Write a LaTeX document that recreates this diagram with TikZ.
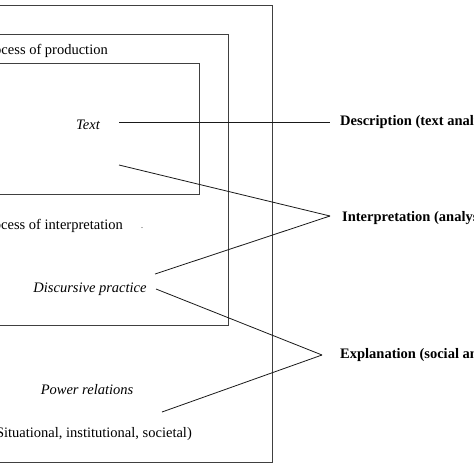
\documentclass[tikz,border=0pt]{standalone}
\usepackage{fontspec}
\setmainfont{Liberation Serif}
\usetikzlibrary{positioning}

\begin{document}
\begin{tikzpicture}[
        x=1pt, y=-1pt,
        box/.style={draw=black!75, line width=0.9pt},
        link/.style={draw=black!90, line width=0.8pt},
        lbl/.style={inner sep=0pt, font=\fontsize{14.5}{16}\selectfont},
        slbl/.style={lbl, font=\fontsize{14.5}{16}\selectfont\itshape},
        stage/.style={inner sep=0pt, anchor=west, font=\fontsize{14.5}{16}\selectfont\bfseries}
    ]
        \useasboundingbox (0,0) rectangle (474,474);
        \clip (0,0) rectangle (474,474);

        % Boxes
        \draw[box] (-200,5) rectangle (272,462);
        \draw[box] (-200,34) rectangle (228,325);
        \draw[box] (-200,63) rectangle (199,194);

        % Box texts
        \node[lbl, anchor=east] (prod) at (108,51) {Process of production};
        \node[slbl] (text) at (88,125) {Text};
        \node[lbl, anchor=east] (interp) at (123,226) {Process of interpretation};
        \node[lbl, font=\fontsize{8}{8}\selectfont] (dot) at (142,228) {.};
        \node[slbl] (disc) at (90,289) {Discursive practice};
        \node[slbl] (power) at (87,390) {Power relations};
        \node[lbl, anchor=east] (sit) at (192,434) {(Situational, institutional, societal)};

        % Stages
        \node[stage] (desc) at (340,122) {Description (text analysis)};
        \node[stage] (inter) at (342,218) {Interpretation (analysis)};
        \node[stage] (expl) at (340,355) {Explanation (social analysis)};

        % Line ends
        \coordinate (a1) at (119,122);
        \coordinate (a2) at (119,165);
        \coordinate (a3) at (155,274);
        \coordinate (a4) at (156,289);
        \coordinate (a5) at (162,412);
        \coordinate (m1) at (330,122);
        \coordinate (m2) at (330,216);
        \coordinate (m3) at (322,355);

        % Connectors
        \draw[link] (a1) -- (m1);
        \draw[link] (a2) -- (m2);
        \draw[link] (a3) -- (m2);
        \draw[link] (a4) -- (m3);
        \draw[link] (a5) -- (m3);
    \end{tikzpicture}
\end{document}
